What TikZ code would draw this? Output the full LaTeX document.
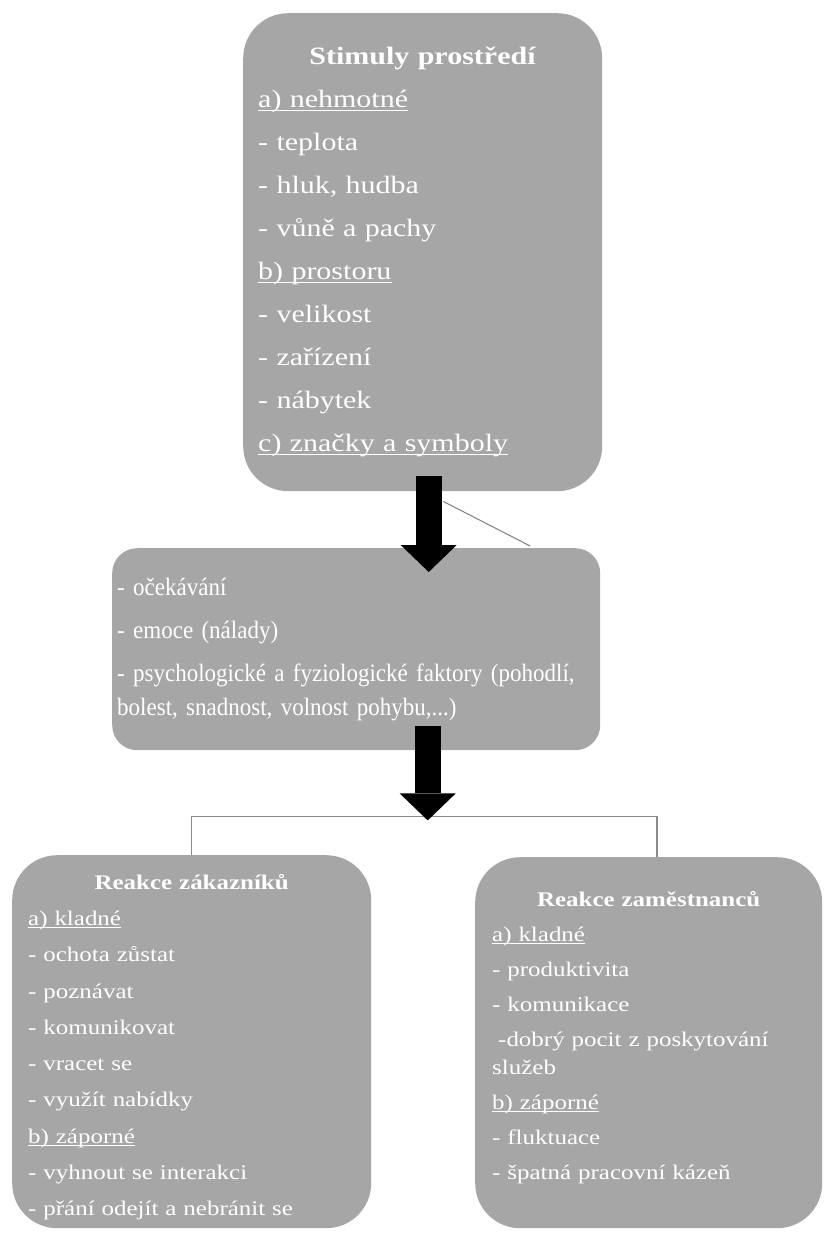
\documentclass[tikz,border=0pt]{standalone}
\usepackage{fontspec}
\setmainfont{Liberation Serif}[FakeStretch=1.2]
\newfontfamily\condfont{Liberation Serif}[FakeStretch=0.92]
\usepackage{tikz}
\usetikzlibrary{arrows.meta,positioning}
\definecolor{boxgray}{RGB}{166,166,166}
\definecolor{linegray}{RGB}{140,140,140}
\newcommand{\undl}[1]{\leavevmode\setbox0\hbox{#1}\rlap{\rule[-0.13em]{\wd0}{0.06em}}\box0}

\begin{document}
\begin{tikzpicture}[x=1pt,y=-1pt,
box/.style={fill=boxgray,text=white,align=left,anchor=north west,inner ysep=0pt},
bigarrow/.style={line width=26pt,-{Triangle[width=56pt,length=27pt,line width=0pt]}},
conn/.style={draw=linegray,line width=1.5pt},
thinconn/.style={draw=linegray!90!black,line width=1pt}]
\useasboundingbox (0,0) rectangle (824,1233);
\node[box,rounded corners=45pt,inner xsep=15pt,text width=329pt,minimum height=478pt,font=\fontsize{25}{43}\selectfont] (stim) at (243,13) {\makebox[\hsize]{\textbf{Stimuly prostředí}}\\
\undl{a) nehmotné}\\
- teplota\\
- hluk, hudba\\
- vůně a pachy\\
\undl{b) prostoru}\\
- velikost\\
- zařízení\\
- nábytek\\
\undl{c) značky a symboly}};
\node[box,rounded corners=25pt,inner xsep=5pt,text width=478pt,minimum height=202pt,font=\condfont\fontsize{25}{34}\selectfont] (mid) at (112,548) {- očekávání\\[9pt]
- emoce (nálady)\\[9pt]
- psychologické a fyziologické faktory (pohodlí,\\
bolest, snadnost, volnost pohybu,...)};
\node[box,rounded corners=45pt,inner xsep=16pt,text width=327pt,minimum height=373pt,font=\fontsize{20.8}{36.3}\selectfont] (zak) at (12,855) {\rule{0pt}{26pt}\makebox[\hsize]{\textbf{Reakce zákazníků}}\\
\undl{a) kladné}\\
- ochota zůstat\\
- poznávat\\
- komunikovat\\
- vracet se\\
- využít nabídky\\
\undl{b) záporné}\\
- vyhnout se interakci\\
- přání odejít a nebránit se};
\node[box,rounded corners=45pt,inner xsep=17pt,text width=313pt,minimum height=371pt,font=\fontsize{20.8}{35}\selectfont] (zam) at (475,857) {\makebox[\hsize]{\textbf{Reakce zaměstnanců}}\\
\undl{a) kladné}\\
- produktivita\\
- komunikace\\
\hspace*{6pt}-dobrý pocit z poskytování\\[-7pt]
služeb\\
\undl{b) záporné}\\
- fluktuace\\
- špatná pracovní kázeň\rule[-14pt]{0pt}{14pt}};
\coordinate (a1s) at ([xshift=6pt,yshift=15pt]stim.south);
\coordinate (a1e) at ([yshift=-24pt]a1s |- mid.north);
\coordinate (a2s) at ([xshift=71.5pt,yshift=24pt]mid.south);
\coordinate (br) at ([yshift=-66pt]a2s |- mid.south);
\coordinate (a2e) at ([yshift=-4pt]br);
\draw[thinconn] ([xshift=14.5pt,yshift=-25pt]a1s) -- ([xshift=174pt,yshift=2pt]mid.north);
\draw[conn] (zak.north) |- (br) -| ([xshift=8.5pt]zam.north);
\draw[bigarrow] (a1s) -- (a1e);
\draw[bigarrow] (a2s) -- (a2e);
\end{tikzpicture}
\end{document}
